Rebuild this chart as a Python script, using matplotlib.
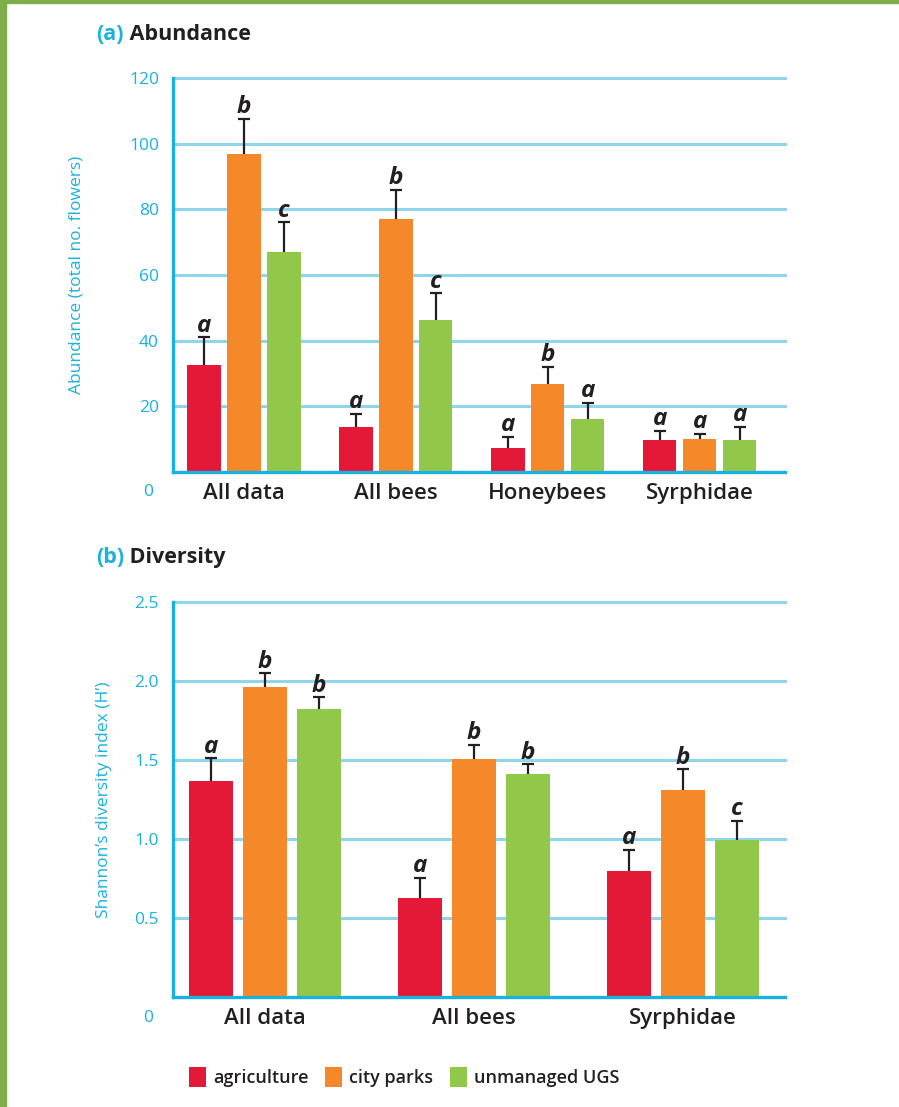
import numpy as np
import matplotlib
matplotlib.use("Agg")
import matplotlib.pyplot as plt
from matplotlib.patches import Patch, Rectangle

plt.rcParams['font.family'] = ['Open Sans', 'DejaVu Sans']

# colours
RED = '#e31937'
ORANGE = '#f5892a'
GREEN = '#92c84a'
CYAN = '#19b1e0'
GRID = '#8fd5ec'
DARK = '#231f20'
FRAME = '#7fad4b'

series_names = ['agriculture', 'city parks', 'unmanaged UGS']
series_colors = [RED, ORANGE, GREEN]

# (a) abundance
abund_cats = ['All data', 'All bees', 'Honeybees', 'Syrphidae']
abund_agri = [32.6, 13.7, 7.3, 9.7]
abund_parks = [96.9, 77.0, 26.8, 10.0]
abund_ugs = [67.0, 46.3, 16.1, 9.7]
abund_agri_se = [8.4, 4.0, 3.4, 2.8]
abund_parks_se = [10.6, 9.0, 5.2, 1.6]
abund_ugs_se = [9.0, 8.2, 4.9, 4.0]
abund_agri_let = ['a', 'a', 'a', 'a']
abund_parks_let = ['b', 'b', 'b', 'a']
abund_ugs_let = ['c', 'c', 'a', 'a']
abund_ticks = [20, 40, 60, 80, 100, 120]

# (b) diversity
div_cats = ['All data', 'All bees', 'Syrphidae']
div_agri = [1.37, 0.625, 0.796]
div_parks = [1.96, 1.505, 1.309]
div_ugs = [1.822, 1.41, 0.992]
div_agri_se = [0.14, 0.13, 0.135]
div_parks_se = [0.09, 0.09, 0.133]
div_ugs_se = [0.076, 0.064, 0.125]
div_agri_let = ['a', 'a', 'a']
div_parks_let = ['b', 'b', 'b']
div_ugs_let = ['b', 'b', 'c']
div_ticks = [0.5, 1.0, 1.5, 2.0, 2.5]

W, H = 899, 1107
fig = plt.figure(figsize=(W / 100, H / 100), dpi=100)

# green frame on left and top
fig.patches.append(Rectangle((0, 0), 6 / W, 1, transform=fig.transFigure,
                             color=FRAME, zorder=0))
fig.patches.append(Rectangle((0, 1 - 3 / H), 1, 3 / H, transform=fig.transFigure,
                             color=FRAME, zorder=0))


def draw_panel(ax, cats, vals, ses, lets, width, step, ymax, ticks, ticklabels,
               ylabel, ylabel_x, xlim):
    x = np.arange(len(cats))
    for i, (v, s, l, c) in enumerate(zip(vals, ses, lets, series_colors)):
        xs = x + (i - 1) * step
        ax.bar(xs, v, width=width, color=c, zorder=3)
        eb = ax.errorbar(xs, v, yerr=[np.zeros(len(v)), s], fmt='none', ecolor=DARK,
                         elinewidth=1.6, capsize=4.3, capthick=1.6, zorder=4)
        eb[1][0].set_visible(False)  # no cap at the bar top
        for xx, top, let in zip(xs, np.array(v) + np.array(s), l):
            ax.annotate(let, (xx, top), xytext=(0, 4), textcoords='offset points',
                        ha='center', va='baseline', fontsize=17.5, fontweight='bold',
                        fontstyle='italic', color=DARK, zorder=5)
    ax.set_xlim(*xlim)
    ax.set_ylim(0, ymax)
    ax.set_xticks(x)
    ax.set_xticklabels(cats, fontsize=16, fontweight='semibold', color=DARK)
    ax.set_yticks(ticks)
    ax.set_yticklabels(ticklabels, fontsize=12.5, color=CYAN)
    ax.tick_params(axis='both', length=0)
    ax.tick_params(axis='x', pad=8)
    ax.tick_params(axis='y', pad=10)
    ax.yaxis.grid(True, color=GRID, linewidth=2.2, zorder=1)
    for gl in ax.get_ygridlines():
        gl.set_clip_on(False)
    ax.set_axisbelow(True)
    for sp in ['top', 'right']:
        ax.spines[sp].set_visible(False)
    for sp in ['left', 'bottom']:
        ax.spines[sp].set_color(CYAN)
        ax.spines[sp].set_linewidth(2.4)
        ax.spines[sp].set_zorder(6)
    ax.set_ylabel(ylabel, fontsize=12.5, color=CYAN)
    ax.yaxis.set_label_coords(ylabel_x, 0.5)
    # the "0" sits below the axis line
    ax.annotate('0', (0, 0), xycoords='axes fraction', xytext=(-14, -9),
                textcoords='offset points', ha='right', va='top',
                fontsize=12.5, color=CYAN)


ax1 = fig.add_axes([173 / W, 1 - 472 / H, 612 / W, 394 / H])
draw_panel(ax1, abund_cats,
           [abund_agri, abund_parks, abund_ugs],
           [abund_agri_se, abund_parks_se, abund_ugs_se],
           [abund_agri_let, abund_parks_let, abund_ugs_let],
           width=0.218, step=0.263, ymax=120, ticks=abund_ticks,
           ticklabels=[str(t) for t in abund_ticks],
           ylabel='Abundance (total no. flowers)', ylabel_x=-0.145,
           xlim=(-0.467, 3.56))

ax2 = fig.add_axes([173 / W, 1 - 997 / H, 612 / W, 395 / H])
draw_panel(ax2, div_cats,
           [div_agri, div_parks, div_ugs],
           [div_agri_se, div_parks_se, div_ugs_se],
           [div_agri_let, div_parks_let, div_ugs_let],
           width=0.21, step=0.258, ymax=2.5, ticks=div_ticks,
           ticklabels=['%.1f' % t for t in div_ticks],
           ylabel='Shannon\u2019s diversity index (H\u2019)', ylabel_x=-0.100,
           xlim=(-0.44, 2.488))

t1 = fig.text(96 / W, 1 - 40 / H, '(a)', fontsize=15.5, fontweight='bold',
              color=CYAN, va='baseline', ha='left')
ax1.annotate(' Abundance', xy=(1, 0), xycoords=t1, va='bottom', ha='left',
             fontsize=15.5, fontweight='bold', color=DARK, annotation_clip=False)
t2 = fig.text(96 / W, 1 - 563 / H, '(b)', fontsize=15.5, fontweight='bold',
              color=CYAN, va='baseline', ha='left')
ax2.annotate(' Diversity', xy=(1, 0), xycoords=t2, va='bottom', ha='left',
             fontsize=15.5, fontweight='bold', color=DARK, annotation_clip=False)

handles = [Patch(facecolor=c, edgecolor='none') for c in series_colors]
leg = fig.legend(handles, series_names, loc='center', ncol=3,
                 bbox_to_anchor=(404 / W, 1 - 1077 / H), frameon=False,
                 handlelength=0.95, handleheight=1.3, handletextpad=0.4,
                 columnspacing=0.9, prop={'size': 13, 'weight': 'semibold'})
for txt in leg.get_texts():
    txt.set_color(DARK)

fig.savefig('out.png', dpi=100, facecolor='white')
